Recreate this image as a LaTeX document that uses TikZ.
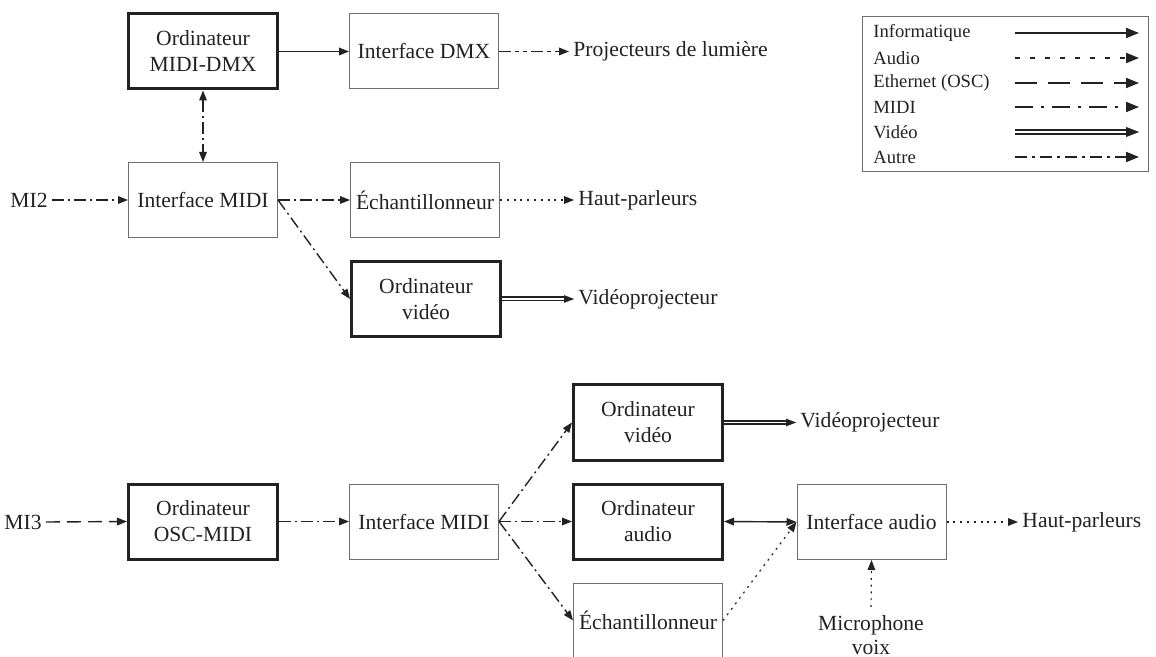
\documentclass[tikz,border=0pt]{standalone}
\usepackage{fontspec}
\setmainfont{Liberation Serif}
\usetikzlibrary{arrows.meta}
\definecolor{ink}{HTML}{222222}
\definecolor{thinb}{HTML}{6E6E6E}
\begin{document}
\begin{tikzpicture}[x=0.5pt,y=-0.5pt,
  font=\fontsize{10.8}{13}\selectfont, text=ink,
  box/.style={draw=thinb, line width=0.5pt, minimum width=74.5pt, minimum height=37.5pt, align=center, inner sep=0pt},
  tbox/.style={box, draw=ink, line width=1.5pt},
  lbl/.style={inner sep=2pt, align=center},
  tp/.style={-{Triangle[length=5pt,width=3.8pt]}},
  btp/.style={{Triangle[length=5pt,width=3.8pt]}-{Triangle[length=5pt,width=3.8pt]}},
  conn/.style={draw=ink, line width=0.7pt},
  info/.style={conn},
  audio/.style={conn, line width=0.6pt, dash pattern=on 1pt off 2.4pt},
  eth/.style={conn, dash pattern=on 7pt off 3.5pt},
  midi/.style={conn, dash pattern=on 6pt off 2pt on 1pt off 2pt},
  autre/.style={conn, dash pattern=on 6pt off 2pt on 2pt off 2pt on 2pt off 2pt},
  vidline/.style={draw=ink, line width=0.8pt, double=white, double distance=0.9pt, shorten >=4pt},
  vidtip/.style={draw=white, line width=0.1pt, -{Triangle[length=5pt,width=3.8pt,color=ink]}},
  legfont/.style={font=\fontsize{9.3}{11}\selectfont},
  lgtp/.style={-{Triangle[length=6.5pt,width=5pt]}},
  lg/.style={draw=ink, line width=1pt, lgtp},
]
\useasboundingbox (0,0) rectangle (1156,657);

% ---------- top part ----------
\node[tbox] (ordDMX) at (203,51.5) {Ordinateur\\MIDI-DMX};
\node[box] (ifDMX) at (424,51.5) {Interface DMX};
\node[lbl, anchor=west] (proj) at (569,51.5) {Projecteurs de lumière};
\node[box] (ifMIDI1) at (203,200) {Interface MIDI};
\node[box] (ech1) at (425,200) {Échantillonneur};
\node[lbl, anchor=west] (hp1) at (574,200) {Haut-parleurs};
\node[tbox] (ordvid1) at (426,299) {Ordinateur\\vidéo};
\node[lbl, anchor=west] (vp1) at (574,299) {Vidéoprojecteur};
\node[lbl, anchor=east] (mi2) at (52,200) {MI2};

\draw[info, tp] (ordDMX.east) -- (ifDMX.west);
\draw[autre, tp] (ifDMX.east) -- (proj.west);
\draw[midi, btp] (ordDMX.south) -- (ifMIDI1.north);
\draw[midi, tp] (mi2.east) -- (ifMIDI1.west);
\draw[midi, tp] (ifMIDI1.east) -- (ech1.west);
\draw[audio, tp] (ech1.east) -- (hp1.west);
\draw[midi, tp] (ifMIDI1.east) -- (ordvid1.west);
\draw[vidline] (ordvid1.east) -- (vp1.west);
\draw[vidtip] (ordvid1.east) -- (vp1.west);

% ---------- bottom part ----------
\node[lbl, anchor=east] (mi3) at (46,522) {MI3};
\node[tbox] (ordOSC) at (203,521.5) {Ordinateur\\OSC-MIDI};
\node[box] (ifMIDI2) at (424,521.5) {Interface MIDI};
\node[tbox] (ordvid2) at (648,422.5) {Ordinateur\\vidéo};
\node[tbox] (ordaud) at (648,521.5) {Ordinateur\\audio};
\node[box] (ech2) at (648,620.5) {Échantillonneur};
\node[box] (ifaud) at (871.5,522) {Interface audio};
\node[lbl, anchor=west] (vp2) at (796,422.5) {Vidéoprojecteur};
\node[lbl, anchor=west] (hp2) at (1018,522) {Haut-parleurs};
\node[lbl, anchor=north, font=\fontsize{10.8}{12}\selectfont] (mic) at (871,611) {Microphone\\voix};

\draw[eth, tp] (mi3.east) -- (ordOSC.west);
\draw[midi, tp] (ordOSC.east) -- (ifMIDI2.west);
\draw[midi, tp] (ifMIDI2.east) -- (ordvid2.west);
\draw[midi, tp] (ifMIDI2.east) -- (ordaud.west);
\draw[midi, tp] (ifMIDI2.east) -- (ech2.west);
\draw[vidline] (ordvid2.east) -- (vp2.west);
\draw[vidtip] (ordvid2.east) -- (vp2.west);
\draw[info, btp] (ordaud.east) -- (ifaud.west);
\draw[audio, tp] (ech2.east) -- (ifaud.west);
\draw[audio, tp] (ifaud.east) -- (hp2.west);
\draw[audio, tp, shorten <=2pt] (mic.north) -- (ifaud.south);

% ---------- legend ----------
\node[draw=thinb, line width=0.5pt, minimum width=143pt, minimum height=77.5pt, inner sep=0pt] (legend) at (1005,94.5) {};
\foreach \y/\t/\n in {33/Informatique/1, 58/Audio/2, 83/Ethernet (OSC)/3, 107/MIDI/4, 132/Vidéo/5, 157/Autre/6}{
  \node[legfont, anchor=west, inner sep=0pt] (lt\n) at (873,\y) {\t};
  \coordinate (la\n) at (1015,\y);
  \coordinate (lb\n) at (1139,\y);
}
\draw[lg] (la1) -- (lb1);
\draw[lg, dash pattern=on 2.5pt off 5pt] (la2) -- (lb2);
\draw[lg, dash pattern=on 11pt off 5.5pt] (la3) -- (lb3);
\draw[lg, dash pattern=on 9pt off 4pt on 1.5pt off 4pt] (la4) -- (lb4);
\draw[draw=ink, line width=0.9pt, double=white, double distance=1.2pt, shorten >=5pt] (la5) -- (lb5);
\draw[draw=white, line width=0.1pt, -{Triangle[length=6.5pt,width=5pt,color=ink]}] (la5) -- (lb5);
\draw[lg, dash pattern=on 6pt off 2.5pt on 1.5pt off 2.5pt] (la6) -- (lb6);
\end{tikzpicture}
\end{document}
